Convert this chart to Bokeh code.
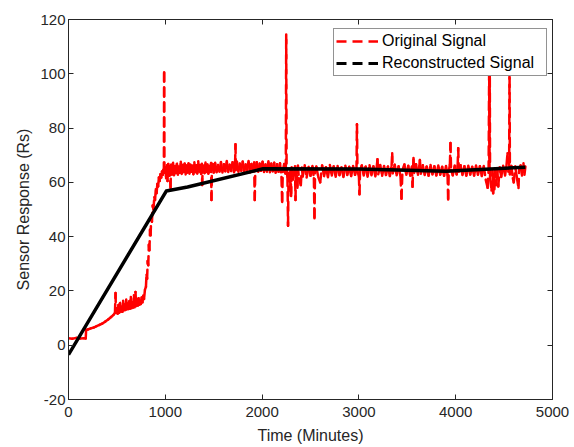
from bokeh.plotting import figure
from bokeh.models import (Range1d, FixedTicker, LinearAxis, Legend, LegendItem,
                          ColumnDataSource, CustomJSTickFormatter)
from bokeh.embed import file_html
from bokeh.resources import INLINE

# ---------------- data ----------------
x_ticks = [0, 1000, 2000, 3000, 4000, 5000]
x_tick_labels = ["0", "1000", "2000", "3000", "4000", "5000"]
y_ticks = [-20, 0, 20, 40, 60, 80, 100, 120]
y_tick_labels = ["-20", "0", "20", "40", "60", "80", "100", "120"]

# original signal: (time in minutes, sensor response)
orig_rise = [
    (0, 2.6), (40, 2.4), (80, 2.7), (120, 2.5), (160, 2.6), (178, 2.5), (182, 5.6),
    (200, 5.8), (230, 6.2), (260, 6.5), (290, 7.0), (320, 7.5), (350, 8.0), (380, 8.7),
    (410, 9.5), (440, 10.4), (465, 11.2), (480, 11.9), (486, 19.2), (490, 12.0),
    (500, 13.5), (508, 11.6), (516, 14.8), (524, 12.0), (532, 15.6), (540, 12.4),
    (548, 14.2), (556, 12.3), (564, 16.4), (572, 12.8), (580, 15.0), (588, 13.0),
    (596, 16.8), (604, 13.2), (612, 15.4), (620, 13.3), (628, 16.2), (636, 13.5),
    (644, 17.8), (652, 13.6), (660, 15.8), (668, 13.9), (676, 18.4), (684, 14.0),
    (692, 19.6), (700, 14.4), (708, 16.9), (716, 14.6), (724, 17.3), (732, 14.9),
    (740, 16.4), (748, 15.2), (756, 17.6), (764, 15.8), (772, 18.2), (780, 17.0),
    (790, 20.5), (800, 21.5), (806, 26.0), (812, 24.5), (818, 31.0), (824, 29.5),
    (830, 37.0), (836, 35.0), (842, 42.5), (848, 40.5), (855, 47.5), (862, 45.5),
    (870, 51.5), (878, 50.0), (886, 54.5), (894, 53.5), (902, 57.5), (910, 56.0),
    (918, 59.5), (926, 58.5), (934, 61.8), (942, 60.5), (950, 63.0), (958, 61.8),
    (966, 64.0), (974, 62.8), (980, 64.6),
]
orig_plateau_a = [
    (985, 64.0), (988, 100.5), (991, 63.5), (1000, 65.5), (1008, 61.5), (1015, 66.3),
    (1023, 60.5), (1030, 66.8), (1040, 62.4), (1046, 65.9), (1054, 58.0), (1060, 66.5),
    (1070, 62.8), (1080, 67.2), (1090, 62.6), (1100, 66.0), (1110, 63.4), (1120, 66.9),
    (1130, 62.8), (1140, 65.8), (1150, 63.5), (1160, 67.6), (1170, 63.1), (1180, 66.4),
    (1190, 63.8), (1200, 66.9), (1210, 62.9), (1220, 66.2), (1230, 63.6), (1240, 67.0),
    (1250, 63.2), (1260, 66.5), (1270, 63.9), (1280, 66.1), (1290, 63.0), (1300, 67.4),
    (1310, 63.7), (1320, 66.3), (1330, 63.3), (1340, 67.8), (1350, 63.9), (1360, 66.4),
    (1370, 63.1), (1378, 66.9), (1381, 59.0), (1385, 64.0), (1395, 66.1), (1405, 63.4),
    (1415, 67.3), (1425, 63.8), (1435, 66.6), (1445, 63.2), (1455, 66.0), (1465, 63.9),
    (1473, 67.1), (1477, 53.5), (1481, 64.5), (1490, 66.8), (1500, 63.6), (1515, 67.2),
    (1530, 63.7), (1545, 66.4), (1560, 64.0), (1575, 67.5), (1590, 63.6), (1605, 66.7),
    (1620, 64.1), (1635, 67.9), (1650, 63.8), (1665, 66.5), (1680, 64.2), (1695, 67.4),
    (1710, 63.7), (1721, 66.8), (1725, 74.0), (1729, 64.5), (1740, 67.6), (1755, 63.9),
    (1770, 66.9), (1785, 64.3), (1800, 67.7), (1815, 63.8), (1830, 66.6), (1845, 64.1),
    (1860, 67.9), (1875, 63.6), (1890, 66.8), (1905, 64.2), (1918, 67.3), (1924, 53.5),
    (1930, 64.8), (1945, 67.4), (1960, 63.9), (1975, 66.9), (1990, 64.3), (2005, 67.6),
    (2020, 63.8), (2035, 66.6), (2050, 64.0), (2065, 67.8), (2080, 63.7), (2095, 66.9),
    (2110, 64.1), (2125, 67.2), (2140, 63.5), (2155, 66.7), (2170, 63.9), (2185, 67.0),
    (2200, 62.0), (2207, 52.8), (2214, 64.4), (2228, 66.8), (2240, 63.2), (2245, 65.0),
    (2249, 114.5), (2253, 64.5), (2262, 62.0), (2268, 44.0), (2273, 63.0),
]
orig_plateau_b = [
    (2280, 63.5), (2290, 57.0), (2295, 64.8), (2300, 55.0), (2305, 65.6), (2320, 61.0),
    (2340, 65.9), (2345, 53.5), (2350, 64.2), (2360, 62.0), (2365, 58.0), (2370, 66.1),
    (2380, 61.5), (2400, 59.0), (2410, 65.4), (2420, 62.2), (2440, 66.3), (2460, 61.8),
    (2480, 65.7), (2500, 62.4), (2520, 66.0), (2535, 61.5), (2541, 46.8), (2547, 63.8),
    (2560, 65.8), (2580, 62.0), (2600, 60.0), (2620, 66.2), (2640, 62.3), (2660, 65.6),
    (2680, 61.9), (2700, 66.4), (2720, 62.5), (2740, 65.9), (2760, 62.1), (2780, 66.0),
    (2800, 62.6), (2820, 65.5), (2840, 62.0), (2860, 66.1), (2880, 62.7), (2900, 65.7),
    (2920, 62.3), (2940, 66.0), (2960, 62.8), (2975, 64.5), (2980, 81.4), (2985, 64.0),
    (3000, 62.4), (3006, 55.6), (3012, 64.5), (3030, 66.2), (3050, 62.5), (3070, 65.8),
    (3090, 62.1), (3110, 66.3), (3130, 62.6), (3150, 65.9), (3170, 62.2), (3185, 66.0),
    (3192, 68.5), (3200, 63.0), (3220, 66.4), (3240, 62.4), (3260, 66.0), (3280, 62.7),
    (3300, 65.8), (3320, 62.3), (3338, 66.2), (3344, 70.7), (3350, 63.4), (3370, 66.5),
    (3390, 62.6), (3410, 65.9), (3430, 62.2), (3440, 54.0), (3450, 64.6), (3470, 66.6),
    (3490, 62.8), (3510, 66.1), (3530, 62.4), (3548, 65.8), (3554, 58.4), (3560, 65.0),
    (3564, 69.0), (3570, 63.5), (3590, 66.7), (3610, 62.8), (3625, 66.0), (3630, 68.2),
    (3640, 63.2), (3660, 66.3), (3680, 62.7), (3700, 65.8), (3720, 62.4), (3740, 66.4),
    (3760, 62.9), (3780, 65.9), (3800, 62.5), (3820, 66.2), (3840, 62.8), (3860, 65.7),
    (3880, 62.4), (3900, 66.0), (3916, 62.8), (3922, 53.7), (3928, 64.0), (3940, 66.5),
    (3946, 74.5), (3952, 64.6), (3970, 62.6), (3990, 66.2), (4010, 62.9), (4020, 66.0),
    (4026, 72.6), (4032, 64.0), (4050, 66.3), (4070, 62.7), (4090, 65.9), (4110, 62.4),
    (4130, 66.1), (4150, 62.9), (4170, 65.7), (4190, 62.5), (4210, 66.2), (4230, 62.8),
    (4250, 65.9), (4270, 62.3), (4290, 66.0), (4310, 61.0), (4330, 58.0), (4340, 64.5),
    (4346, 104.0), (4349, 63.5), (4352, 104.0), (4355, 61.5), (4370, 57.0), (4380, 64.2),
    (4387, 56.0), (4395, 63.0), (4400, 57.5), (4410, 65.2), (4420, 59.0), (4430, 64.8),
    (4440, 58.5), (4455, 65.5), (4470, 62.0), (4490, 66.1), (4510, 62.5), (4525, 66.3),
    (4535, 70.7), (4545, 64.0), (4552, 65.0), (4556, 104.0), (4560, 63.0), (4575, 66.0),
    (4590, 61.5), (4600, 60.0), (4615, 65.8), (4630, 62.2), (4649, 57.9), (4655, 64.5),
    (4670, 66.2), (4685, 62.5), (4700, 67.0), (4710, 62.8), (4720, 65.8),
]

# reconstructed signal (piecewise linear)
recon_time = [0, 1010, 1230, 2010, 3000, 3900, 4720]
recon_value = [-3.5, 56.8, 58.3, 65.0, 64.9, 64.1, 65.6]

# ---------------- figure ----------------
AXC = "#262626"
FONT = "Liberation Sans"

signal = orig_rise + orig_plateau_a + orig_plateau_b
sig_t = [a for a, b in signal]
sig_v = [b for a, b in signal]
src = ColumnDataSource(dict(x0=sig_t[:-1], y0=sig_v[:-1], x1=sig_t[1:], y1=sig_v[1:]))

p = figure(width=572, height=446, output_backend="svg", toolbar_location=None,
           x_range=Range1d(0, 5000), y_range=Range1d(-20, 120),
           min_border_left=68, min_border_right=20, min_border_top=19, min_border_bottom=46)
p.background_fill_color = "white"
p.border_fill_color = "white"
p.outline_line_color = AXC
p.xgrid.visible = False
p.ygrid.visible = False

p.segment(x0="x0", y0="y0", x1="x1", y1="y1", source=src,
          line_color="#ff0000", line_width=2.5, line_dash="9 6", line_cap="round")
p.line(recon_time, recon_value, line_color="black", line_width=3.5, line_join="round")

# legend proxies (dashed samples)
nan = float("nan")
leg_red = p.line([nan], [nan], line_color="#ff0000", line_width=2.5, line_dash="10 6")
leg_blk = p.line([nan], [nan], line_color="black", line_width=3, line_dash="10 6")

# axes
p.xaxis.ticker = FixedTicker(ticks=x_ticks)
p.yaxis.ticker = FixedTicker(ticks=y_ticks)
p.xaxis.major_label_overrides = dict(zip(x_ticks, x_tick_labels))
p.yaxis.major_label_overrides = dict(zip(y_ticks, y_tick_labels))
for ax in (p.xaxis[0], p.yaxis[0]):
    ax.major_tick_in = 5
    ax.major_tick_out = 0
    ax.minor_tick_in = 0
    ax.minor_tick_out = 0
    ax.axis_line_color = AXC
    ax.major_tick_line_color = AXC
    ax.major_label_text_font = FONT
    ax.major_label_text_font_size = "15px"
    ax.major_label_text_color = AXC
    ax.axis_label_text_font = FONT
    ax.axis_label_text_font_size = "16px"
    ax.axis_label_text_font_style = "normal"
    ax.axis_label_text_color = AXC
p.xaxis.axis_label = "Time (Minutes)"
p.yaxis.axis_label = "Sensor Response (Rs)"
p.xaxis.major_label_standoff = 7
p.xaxis.axis_label_standoff = 7
p.yaxis.major_label_standoff = 3
p.yaxis.axis_label_standoff = 5

blank = CustomJSTickFormatter(code="return '';")
for side, tk in (("above", x_ticks), ("right", y_ticks)):
    ax = LinearAxis(ticker=FixedTicker(ticks=tk), formatter=blank,
                    major_tick_in=5, major_tick_out=0,
                    minor_tick_in=0, minor_tick_out=0,
                    major_label_standoff=0, axis_line_color=AXC, major_tick_line_color=AXC)
    p.add_layout(ax, side)

legend = Legend(items=[LegendItem(label="Original Signal", renderers=[leg_red]),
                       LegendItem(label="Reconstructed Signal", renderers=[leg_blk])],
                location=(265, 323), orientation="vertical",
                glyph_width=42, glyph_height=20, label_height=20, label_width=162,
                label_standoff=4, padding=2, spacing=2, margin=0,
                label_text_font=FONT, label_text_font_size="16px", label_text_color="black",
                border_line_color=AXC, border_line_width=1,
                background_fill_color="white", background_fill_alpha=1.0)
p.add_layout(legend)

open("out.html", "w").write(file_html(p, INLINE))
